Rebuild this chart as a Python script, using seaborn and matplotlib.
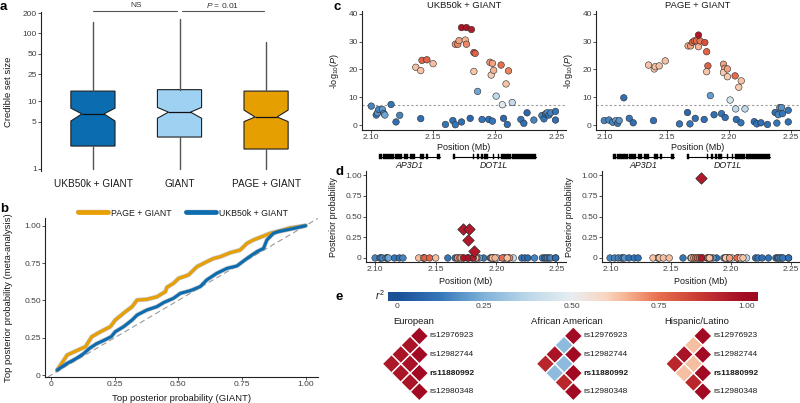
import numpy as np
import pandas as pd
import matplotlib
matplotlib.use('Agg')
import matplotlib.pyplot as plt
import seaborn as sns
from matplotlib.colors import LinearSegmentedColormap, Normalize
from matplotlib.patches import Polygon, Rectangle
from matplotlib.lines import Line2D
import matplotlib.patheffects as pe

sns.set_theme(style='ticks')
plt.rcParams['font.family'] = ['Liberation Sans', 'DejaVu Sans']
plt.rcParams['mathtext.fontset'] = 'custom'
plt.rcParams['mathtext.rm'] = 'Liberation Sans'
plt.rcParams['mathtext.it'] = 'Liberation Sans:italic'
plt.rcParams['mathtext.bf'] = 'Liberation Sans:bold'

# ---------------- DATA ----------------
# panel a: credible set size summaries
box_groups = ['UKB50k + GIANT', 'GIANT', 'PAGE + GIANT']
box_colors = ['#0b6db0', '#9fd1f3', '#e69f00']
box_whislo = [1, 1, 1]
box_q1 = [2.18, 2.96, 1.97]
box_med = [6.5, 6.9, 5.85]
box_q3 = [14.1, 14.8, 14.1]
box_whishi = [147, 163, 75]
box_notch_lo = [5.1, 5.6, 5.0]
box_notch_hi = [7.9, 8.1, 7.4]
sig_pairs = [(0, 1), (1, 2)]
sig_labels = ['NS', r'$\it{P}$ = 0.01']
a_yticks = [1, 5, 10, 25, 50, 100, 200]

# panel b: top posterior probability curves
page_x = [0.024, 0.05, 0.063, 0.10, 0.135, 0.16, 0.194, 0.233, 0.252, 0.292, 0.318, 0.338,
          0.377, 0.416, 0.449, 0.455, 0.481, 0.501, 0.54, 0.573, 0.612, 0.638, 0.665, 0.704,
          0.743, 0.77, 0.795, 0.835, 0.861, 0.887, 0.94, 1.0]
page_y = [0.033, 0.10, 0.134, 0.163, 0.19, 0.257, 0.29, 0.324, 0.368, 0.424, 0.457, 0.502,
          0.507, 0.524, 0.558, 0.587, 0.614, 0.647, 0.67, 0.725, 0.759, 0.78, 0.792, 0.819,
          0.837, 0.882, 0.904, 0.931, 0.949, 0.96, 0.985, 1.0]
ukb_x = [0.024, 0.063, 0.10, 0.126, 0.152, 0.178, 0.217, 0.237, 0.252, 0.285, 0.318, 0.338,
         0.377, 0.416, 0.442, 0.481, 0.508, 0.547, 0.586, 0.612, 0.651, 0.691, 0.73, 0.77,
         0.809, 0.835, 0.848, 0.874, 0.893, 0.95, 1.0]
ukb_y = [0.033, 0.078, 0.112, 0.141, 0.18, 0.209, 0.24, 0.258, 0.29, 0.324, 0.368, 0.402,
         0.436, 0.458, 0.485, 0.514, 0.547, 0.565, 0.592, 0.637, 0.681, 0.714, 0.73, 0.781,
         0.826, 0.848, 0.904, 0.949, 0.96, 0.98, 1.0]
b_ticks = [0, 0.25, 0.5, 0.75, 1.0]
b_ticklabels = ['0', '0.25', '0.50', '0.75', '1.00']

# panel c: regional association (UKB50k + GIANT)
ukb_pos = [2.100, 2.104, 2.105, 2.106, 2.109, 2.110, 2.111, 2.116, 2.120, 2.123, 2.140, 2.160,
           2.166, 2.168, 2.173, 2.180, 2.1896, 2.195, 2.198, 2.207, 2.210, 2.221, 2.2234, 2.226,
           2.2315, 2.238, 2.2397, 2.241, 2.2423, 2.2437, 2.245, 2.249, 2.249,
           2.186, 2.201, 2.206, 2.214,
           2.136, 2.140, 2.141, 2.145, 2.150, 2.168, 2.170, 2.171, 2.176, 2.177, 2.183, 2.184,
           2.183, 2.196, 2.198, 2.197, 2.199, 2.205, 2.211, 2.209, 2.173, 2.177, 2.181]
ukb_logp = [6.8, 3.6, 4.4, 5.6, 5.6, 4.2, 3.6, 7.4, 1.1, 3.5, 2.3, 0.2,
            1.6, 0.1, 1.1, 2.4, 2.0, 2.0, 1.4, 2.4, 0.2, 2.0, 0.6, 4.4,
            1.8, 3.4, 2.2, 4.0, 4.4, 3.6, 4.4, 4.9, 1.8,
            12.1, 10.4, 7.3, 8.1,
            20.8, 19.6, 23.3, 23.5, 22.1, 29.1, 29.1, 30.4, 30.6, 29.1, 26.1, 25.8,
            19.3, 22.6, 22.2, 18.0, 19.7, 21.6, 19.5, 14.8, 35.1, 35.1, 34.4]
ukb_r2 = [0.15, 0.12, 0.18, 0.15, 0.20, 0.14, 0.22, 0.12, 0.10, 0.15, 0.10, 0.12,
          0.10, 0.12, 0.10, 0.08, 0.12, 0.10, 0.12, 0.08, 0.10, 0.12, 0.10, 0.08,
          0.15, 0.15, 0.12, 0.10, 0.18, 0.12, 0.15, 0.12, 0.10,
          0.22, 0.38, 0.47, 0.40,
          0.64, 0.63, 0.78, 0.78, 0.64, 0.70, 0.72, 0.68, 0.66, 0.72, 0.80, 0.78,
          0.63, 0.70, 0.68, 0.62, 0.66, 0.75, 0.72, 0.63, 0.97, 0.97, 0.95]

# panel c: regional association (PAGE + GIANT)
page_pos = [2.0992, 2.103, 2.106, 2.1086, 2.110, 2.1113, 2.115, 2.1194, 2.1226, 2.139, 2.160,
            2.1665, 2.1685, 2.1728, 2.180, 2.188, 2.194, 2.197, 2.206, 2.2097, 2.2205, 2.2226,
            2.2259, 2.2312, 2.2374, 2.2388, 2.2399, 2.2412, 2.2425, 2.2433, 2.248, 2.248,
            2.185, 2.201, 2.2055, 2.213,
            2.135, 2.1396, 2.1404, 2.1436, 2.1485, 2.167, 2.169, 2.1705, 2.172, 2.1738, 2.1754,
            2.1767, 2.1805, 2.182, 2.183, 2.182, 2.1956, 2.1967, 2.1956, 2.1988, 2.1988, 2.205,
            2.208, 2.210, 2.1754]
page_logp = [1.6, 1.8, 1.0, 1.6, 0.6, 1.6, 9.8, 2.4, 0.8, 1.6, 0.4,
             4.5, 0.4, 2.4, 2.0, 3.7, 4.1, 2.7, 2.0, 0.8, 1.2, 0.4,
             0.8, 0.2, 4.5, 0.7, 3.7, 6.3, 6.3, 4.1, 5.3, 1.1,
             10.6, 9.0, 5.8, 5.8,
             21.6, 20.2, 21.0, 21.3, 23.1, 28.5, 28.5, 29.8, 30.3, 30.3, 28.2,
             30.3, 29.7, 26.4, 21.3, 19.2, 21.9, 20.4, 18.9, 17.4, 20.2, 17.7,
             13.6, 15.9, 32.4]
page_r2 = [0.15, 0.15, 0.15, 0.20, 0.12, 0.18, 0.10, 0.12, 0.10, 0.10, 0.12,
           0.08, 0.12, 0.10, 0.10, 0.10, 0.12, 0.10, 0.10, 0.12, 0.10, 0.12,
           0.10, 0.10, 0.10, 0.12, 0.15, 0.20, 0.18, 0.12, 0.12, 0.10,
           0.20, 0.45, 0.38, 0.38,
           0.63, 0.62, 0.64, 0.64, 0.64, 0.66, 0.68, 0.75, 0.78, 0.76, 0.66,
           0.74, 0.82, 0.78, 0.78, 0.63, 0.68, 0.68, 0.62, 0.62, 0.68, 0.76,
           0.62, 0.63, 0.96]
gw_threshold = 7.3
c_yticks = [0, 10, 20, 30, 40]
pos_ticks = [2.10, 2.15, 2.20, 2.25]

# panel d: credible set posterior probabilities
ukb_cs_pos = [2.1723, 2.1773, 2.1765, 2.1815]
ukb_cs_pp = [0.347, 0.347, 0.218, 0.085]
page_cs_pos = [2.1750]
page_cs_pp = [0.97]
d_yticks = [0, 0.25, 0.5, 0.75, 1.0]
d_yticklabels = ['0', '0.25', '0.50', '0.75', '1.00']

# gene models
gene_names = ['AP3D1', 'DOT1L']
gene_start = [2.1066, 2.1657]
gene_end = [2.1556, 2.2333]
gene_exons = [
    [(2.1066, 2.1085), (2.1095, 2.1180), (2.1190, 2.1250), (2.1262, 2.1300), (2.1310, 2.1355),
     (2.1395, 2.1423), (2.1445, 2.1460), (2.1535, 2.1556)],
    [(2.1657, 2.1677), (2.1820, 2.1832), (2.1856, 2.1868), (2.1890, 2.1905), (2.1915, 2.1945),
     (2.1982, 2.1994), (2.2024, 2.2036), (2.2052, 2.2130), (2.2138, 2.2333)],
]

# panel e: LD r2 among credible-set SNPs
ld_snps = ['rs12976923', 'rs12982744', 'rs11880992', 'rs12980348']
ld_lead = 'rs11880992'
ld_pops = ['European', 'African American', 'Hispanic/Latino']
# upper triangle order: (0,1),(0,2),(0,3),(1,2),(1,3),(2,3)
ld_eur = [0.97, 0.97, 0.96, 0.98, 0.97, 0.97]
ld_afr = [0.28, 0.97, 0.92, 0.28, 0.28, 0.92]
ld_his = [0.64, 0.97, 0.92, 0.64, 0.64, 0.92]
r2_ticks = [0, 0.25, 0.5, 0.75, 1.0]
r2_ticklabels = ['0', '0.25', '0.50', '0.75', '1.00']

# ---------------- STYLE ----------------
cmap = LinearSegmentedColormap.from_list('ld', [
    (0.0, '#1b4f96'), (0.12, '#3576b9'), (0.25, '#80b3da'), (0.38, '#bed9ea'),
    (0.5, '#e8eef2'), (0.6, '#f9d6c0'), (0.65, '#f6b998'), (0.75, '#e8704e'),
    (0.87, '#c83a33'), (1.0, '#a20a24')])
norm = Normalize(0, 1)
W, H = 800, 403
TICK = 6.0
LAB = 6.5
TXT = '#1a1a1a'
TCK = '#404040'

fig = plt.figure(figsize=(W / 100, H / 100), dpi=100)


def px_axes(l, t, r, b):
    ax = fig.add_axes([l / W, 1 - b / H, (r - l) / W, (b - t) / H])
    ax._pxbox = (l, t, r, b)
    return ax


def ax_x(ax, xpx):
    l, t, r, b = ax._pxbox
    return (xpx - l) / (r - l)


def ax_y(ax, ypx):
    l, t, r, b = ax._pxbox
    return (b - ypx) / (b - t)


def style_axes(ax, bottom=True):
    sns.despine(ax=ax, top=True, right=True, bottom=not bottom)
    for s in ['left', 'bottom']:
        ax.spines[s].set_linewidth(0.8)
        ax.spines[s].set_color('#222222')
    ax.tick_params(axis='both', labelsize=TICK, length=2, width=0.6, pad=1,
                   color='#333333', labelcolor=TCK)
    ax.set_facecolor('none')
    ax.grid(False)


def letter(x, y, s):
    fig.text(x / W, 1 - y / H, s, fontsize=9.5, fontweight='bold', ha='left', va='center',
             color='black')


# ---------------- PANEL A ----------------
axa = px_axes(41, 12, 318, 171)
stats = []
for i in range(len(box_groups)):
    stats.append(dict(med=box_med[i], q1=box_q1[i], q3=box_q3[i], whislo=box_whislo[i],
                      whishi=box_whishi[i], cilo=box_notch_lo[i], cihi=box_notch_hi[i],
                      fliers=[], label=box_groups[i]))
bp = axa.bxp(stats, positions=range(len(box_groups)), widths=0.51, shownotches=True,
             patch_artist=True, showcaps=False, showfliers=False,
             boxprops=dict(linewidth=0.8, edgecolor='#1f1f1f'),
             medianprops=dict(color='#111111', linewidth=0.9),
             whiskerprops=dict(color='#555555', linewidth=1.0))
for patch, c in zip(bp['boxes'], box_colors):
    patch.set_facecolor(c)
axa.set_yscale('log')
axa.set_ylim(0.934, 207)
axa.set_xlim(-0.6, 2.6)
style_axes(axa, bottom=False)
axa.set_yticks(a_yticks)
axa.set_yticklabels([str(v) for v in a_yticks])
axa.yaxis.set_minor_locator(matplotlib.ticker.NullLocator())
axa.set_xticks(range(len(box_groups)))
axa.set_xticklabels(box_groups, fontsize=7.2, color=TXT)
axa.tick_params(axis='x', length=0, pad=6)
axa.set_ylabel('Credible set size', fontsize=LAB + 0.3, color=TXT)
axa.yaxis.set_label_coords(ax_x(axa, 13), 0.5)
ybr = ax_y(axa, 10.7)
for (i, j), lab in zip(sig_pairs, sig_labels):
    axa.plot([i + (0.025 if i > 0 else 0), j - 0.025], [ybr, ybr],
             transform=axa.get_xaxis_transform(), color='#555555', lw=0.8, clip_on=False)
    axa.text((i + j) / 2, ax_y(axa, 5.5), lab, transform=axa.get_xaxis_transform(),
             ha='center', va='center', fontsize=TICK, color='#333333')
letter(0, 7, 'a')

# ---------------- PANEL B ----------------
axb = px_axes(45, 218.5, 318, 377)
axb.set_xlim(-0.024, 1.049)
axb.set_ylim(-0.013, 1.048)
axb.axline((0, 0), slope=1, color='#9a9a9a', lw=0.8, dashes=(5, 3), zorder=1)
halo = [pe.Stroke(linewidth=3.2, foreground='#8c8c8c', alpha=0.55), pe.Normal()]
df_page = pd.DataFrame({'x': page_x, 'y': page_y})
df_ukb = pd.DataFrame({'x': ukb_x, 'y': ukb_y})
sns.lineplot(data=df_page, x='x', y='y', ax=axb, color='#e8a000', lw=2.2, sort=False,
             estimator=None, path_effects=halo, zorder=3)
sns.lineplot(data=df_ukb, x='x', y='y', ax=axb, color='#0b6db0', lw=2.2, sort=False,
             estimator=None, path_effects=halo, zorder=4)
style_axes(axb)
axb.set_xticks(b_ticks)
axb.set_xticklabels(b_ticklabels)
axb.set_yticks(b_ticks)
axb.set_yticklabels(b_ticklabels)
axb.set_xlabel('Top posterior probability (GIANT)', fontsize=LAB + 0.3, color=TXT)
axb.set_ylabel('Top posterior probability (meta-analysis)', fontsize=LAB + 0.3, color=TXT)
axb.xaxis.set_label_coords(0.5, ax_y(axb, 394))
axb.yaxis.set_label_coords(ax_x(axb, 13), 0.5)
handles = [Line2D([], [], color='#e8a000', lw=3.4, path_effects=halo),
           Line2D([], [], color='#0b6db0', lw=3.4, path_effects=halo)]
fig.legend(handles, ['PAGE + GIANT', 'UKB50k + GIANT'], loc='center',
           bbox_to_anchor=(183 / W, 1 - 213 / H), ncol=2, frameon=False, fontsize=6.3,
           handlelength=3.4, handletextpad=0.4, columnspacing=1.6, labelcolor=TXT)
letter(0, 209, 'b')

# ---------------- PANEL C ----------------
c_sets = [(362, 566, ukb_pos, ukb_logp, ukb_r2, 'UKB50k + GIANT'),
          (596, 800, page_pos, page_logp, page_r2, 'PAGE + GIANT')]
for (l, r, pos, lp, r2, title) in c_sets:
    ax = px_axes(l, 11.2, r, 130)
    ax.set_xlim(2.0925, 2.2575)
    ax.set_ylim(-1.8, 41)
    ax.axhline(gw_threshold, color='#9a9a9a', lw=0.8, dashes=(2, 2), zorder=1)
    dfc = pd.DataFrame({'pos': pos, 'logp': lp, 'r2': r2})
    sns.scatterplot(data=dfc, x='pos', y='logp', hue='r2', palette=cmap, hue_norm=(0, 1),
                    legend=False, s=22, edgecolor='#2a2a2a', linewidth=0.4, ax=ax, zorder=3)
    style_axes(ax)
    ax.set_xticks(pos_ticks)
    ax.set_xticklabels(['%.2f' % v for v in pos_ticks])
    ax.set_yticks(c_yticks)
    ax.set_xlabel('Position (Mb)', fontsize=LAB, color=TXT)
    ax.xaxis.set_label_coords(0.5, ax_y(ax, 143.5))
    ax.set_ylabel(r'-log$_{10}$($\it{P}$)', fontsize=LAB, color=TXT)
    ax.yaxis.set_label_coords(ax_x(ax, l - 21), 0.5)
    ax.text(0.5, ax_y(ax, 5.5), title, transform=ax.transAxes, ha='center', va='center',
            fontsize=6.8, color=TXT)
    # gene track
    g = px_axes(l, 148, r, 170)
    g.set_xlim(2.0925, 2.2575)
    g.set_ylim(170, 148)
    g.axis('off')
    for name, s0, e0, exons in zip(gene_names, gene_start, gene_end, gene_exons):
        g.plot([s0, e0], [156.7, 156.7], color='black', lw=0.8)
        for (a0, a1) in exons:
            g.add_patch(Rectangle((a0, 154.4), a1 - a0, 4.6, facecolor='black',
                                  edgecolor='black', lw=0.3))
        g.text((s0 + e0) / 2, 165, name, ha='center', va='center', fontsize=6.3,
               style='italic', color=TXT)
letter(333, 7, 'c')

# ---------------- PANEL D ----------------
d_sets = [(366, 566, ukb_pos, ukb_r2, ukb_cs_pos, ukb_cs_pp),
          (602, 800, page_pos, page_r2, page_cs_pos, page_cs_pp)]
for (l, r, pos, r2, cpos, cpp) in d_sets:
    ax = px_axes(l, 171.2, r, 262.1)
    ax.set_xlim(2.0925, 2.2575)
    ax.set_ylim(-0.05, 1.05)
    dfz = pd.DataFrame({'pos': pos, 'pp': np.zeros(len(pos)), 'r2': r2})
    sns.scatterplot(data=dfz, x='pos', y='pp', hue='r2', palette=cmap, hue_norm=(0, 1),
                    legend=False, s=22, edgecolor='#2a2a2a', linewidth=0.4, ax=ax, zorder=3)
    dfd = pd.DataFrame({'pos': cpos, 'pp': cpp})
    sns.scatterplot(data=dfd, x='pos', y='pp', marker='D', color='#b2182b', s=34,
                    edgecolor='#2a2a2a', linewidth=0.5, ax=ax, zorder=4)
    style_axes(ax)
    ax.set_xticks(pos_ticks)
    ax.set_xticklabels(['%.2f' % v for v in pos_ticks])
    ax.set_yticks(d_yticks)
    ax.set_yticklabels(d_yticklabels)
    ax.set_xlabel('Position (Mb)', fontsize=LAB, color=TXT)
    ax.xaxis.set_label_coords(0.5, ax_y(ax, 277))
    ax.set_ylabel('Posterior probability', fontsize=LAB, color=TXT)
    ax.yaxis.set_label_coords(ax_x(ax, l - 28), 0.5)
letter(335, 172, 'd')

# ---------------- PANEL E ----------------
cax = px_axes(388.3, 291.7, 758.3, 300.7)
cb_lo, cb_hi = -0.024, 1.033
grad = np.linspace(cb_lo, cb_hi, 400)[None, :]
cax.imshow(grad, extent=(cb_lo, cb_hi, 0, 1), aspect='auto', cmap=cmap, norm=norm)
cax.set_xlim(cb_lo, cb_hi)
cax.set_yticks([])
cax.set_xticks(r2_ticks)
cax.set_xticklabels(r2_ticklabels)
cax.tick_params(axis='x', length=0, pad=1.5, labelsize=TICK, labelcolor=TCK)
for s in cax.spines.values():
    s.set_visible(False)
fig.text(380 / W, 1 - 295 / H, r'$\it{r}^2$', fontsize=7.5, ha='center', va='center', color=TXT)
letter(335, 297, 'e')

axe = px_axes(280, 310, 800, 403)
axe.set_xlim(280, 800)
axe.set_ylim(403, 310)
axe.axis('off')
pairs = [(0, 1), (0, 2), (0, 3), (1, 2), (1, 3), (2, 3)]
row_y0, row_v = 336.0, 18.55
half = row_v / 2
col_x0 = [419.3, 573.3, 702.7]
for pop, vals, x0 in zip(ld_pops, [ld_eur, ld_afr, ld_his], col_x0):
    cells = [((i, i), 1.0) for i in range(len(ld_snps))] + list(zip(pairs, vals))
    for (i, j), v in cells:
        cx = x0 - (j - i) * half
        cy = row_y0 + (i + j) / 2 * row_v
        poly = Polygon([(cx - half, cy), (cx, cy - half), (cx + half, cy), (cx, cy + half)],
                       closed=True, facecolor=cmap(norm(v)), edgecolor='white', lw=1.0)
        axe.add_patch(poly)
    for k, snp in enumerate(ld_snps):
        axe.text(x0 + 10.5, row_y0 + k * row_v, snp, ha='left', va='center', fontsize=TICK,
                 color=TXT, fontweight='bold' if snp == ld_lead else 'normal')
    axe.text(x0 - 6, 322, pop, ha='center', va='center', fontsize=6.8, color=TXT)

fig.savefig('out.png', dpi=100)
